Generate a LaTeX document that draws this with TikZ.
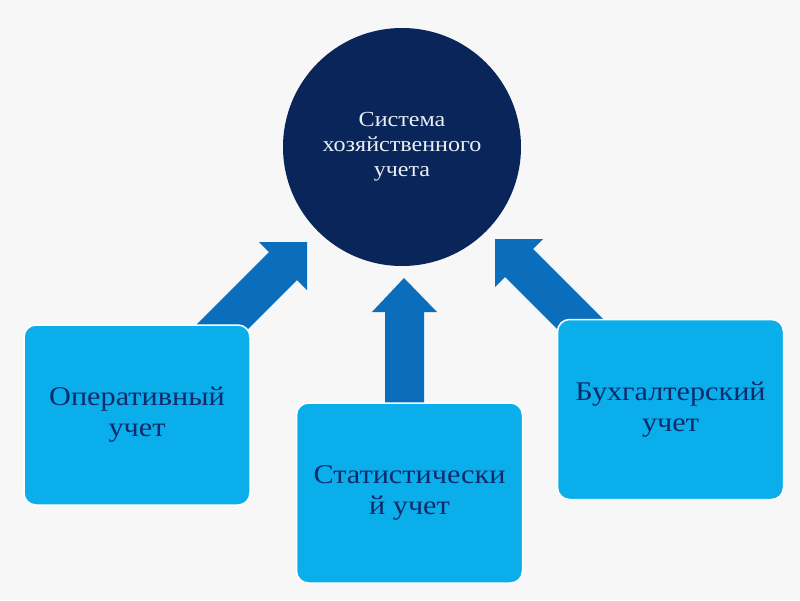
\documentclass[tikz,border=0pt]{standalone}
\usepackage{fontspec}
\setmainfont[FakeStretch=1.12]{Liberation Serif}
\definecolor{bgc}{HTML}{F7F7F7}
\definecolor{navy}{HTML}{0A2559}
\definecolor{boxc}{HTML}{0AAEEA}
\definecolor{arrc}{HTML}{0A6EBD}
\definecolor{txtc}{HTML}{0F2B6B}
\definecolor{ctxt}{HTML}{E8EEF5}
\tikzset{
  boxst/.style={draw=white, line width=1.5pt, fill=boxc, rounded corners=12pt,
    minimum width=226pt, minimum height=180pt, inner sep=0pt, align=center,
    text=txtc, font=\fontsize{27}{31}\selectfont},
  circst/.style={circle, fill=navy, minimum size=238pt, inner sep=0pt, align=center,
    text=ctxt, font=\fontsize{21.5}{25}\selectfont},
  arrst/.style={fill=arrc, draw=none}
}
\begin{document}
\begin{tikzpicture}[x=1pt,y=-1pt]
\fill[bgc] (0,0) rectangle (800,600);
\useasboundingbox (0,0) rectangle (800,600);
% arrows
\fill[arrst] (307,242) -- (307,290) -- (297,280) -- (232,345) -- (176,345) -- (269,252) -- (259,242) -- cycle;
\fill[arrst] (404,278) -- (437,312) -- (424,312) -- (424,410) -- (385,410) -- (385,312) -- (372,312) -- cycle;
\fill[arrst] (495,239) -- (543,239) -- (533,249) -- (624,340) -- (568,340) -- (505,277) -- (495,287) -- cycle;
% boxes
\node[boxst] (op) at (137,415) {Оперативный\\учет\hspace{10pt}};
\node[boxst] (st) at (409.5,493) {Статистически\\й учет\hspace{12pt}};
\node[boxst] (bu) at (670.5,409.5) {Бухгалтерский\\учет};
% circle
\node[circst] (sys) at (402,147) {Система\\хозяйственного\\учета};
\end{tikzpicture}
\end{document}
